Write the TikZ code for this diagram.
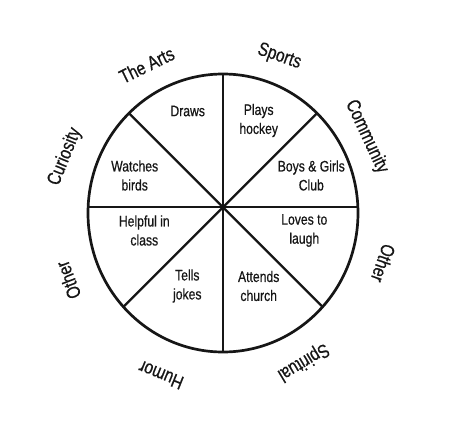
\documentclass[tikz,border=0pt]{standalone}
\usepackage{fontspec}
\setmainfont{Liberation Sans}[FakeStretch=0.8, FakeBold=0.6]
\usepackage{tikz}
\usetikzlibrary{positioning}
\definecolor{wheelink}{HTML}{161616}
\tikzstyle{wheelrim} = [draw=wheelink, line width=2.3pt]
\tikzstyle{spokeline} = [draw=wheelink, line width=2pt]
\tikzstyle{slicetext} = [align=center, inner sep=0pt, text=wheelink,
    font=\fontsize{13}{16.2}\selectfont]
\tikzstyle{rimlabel} = [inner sep=0pt, text=wheelink,
    font=\fontsize{16.5}{19}\selectfont]

\begin{document}
\begin{tikzpicture}[x=0.03cm, y=0.03cm]
\useasboundingbox (-223,-232.7) rectangle (244,207.3);

% wheel
\coordinate (hub) at (0,0);
\coordinate (rimN) at (0,133.3);
\coordinate (rimS) at (0,-144.7);
\coordinate (rimE) at (134.9,0);
\coordinate (rimW) at (-134.9,0);
\coordinate (rimNE) at (94,94);
\coordinate (rimNW) at (-94,94);
\coordinate (rimSE) at (99.6,-99.6);
\coordinate (rimSW) at (-99.6,-99.6);
\draw[wheelrim] (0,-5.7) ellipse [x radius=135, y radius=139];
\draw[spokeline] (rimN) -- (hub) -- (rimS);
\draw[spokeline] (rimW) -- (hub) -- (rimE);
\draw[spokeline] (rimNW) -- (hub) -- (rimSE);
\draw[spokeline] (rimSW) -- (hub) -- (rimNE);

% inside the slices
\node[slicetext] (draws) at (-35.3,96.3) {Draws};
\node[slicetext] (hockey) at (35.7,86.8) {Plays\\hockey};
\node[slicetext] (birds) at (-88.3,31.8) {Watches\\birds};
\node[slicetext] (club) at (88.3,31.8) {Boys \& Girls\\Club};
\node[slicetext] (helpful) at (-78.7,-23.2) {Helpful in\\class};
\node[slicetext] (laugh) at (81.3,-23.2) {Loves to\\laugh};
\node[slicetext] (jokes) at (-35.7,-78.7) {Tells\\jokes};
\node[slicetext] (church) at (35.7,-78.7) {Attends\\church};

% round the rim
\node[rimlabel, rotate=26] (arts) at (-76.3,142.3) {The Arts};
\node[rimlabel, rotate=-19] (sports) at (56.3,150.6) {Sports};
\node[rimlabel, rotate=-65] (community) at (143.7,70.6) {Community};
\node[rimlabel, rotate=-109] (otherright) at (160.3,-56) {Other};
\node[rimlabel, rotate=-149] (spiritual) at (80.3,-154.4) {Spiritual};
\node[rimlabel, rotate=158] (humor) at (-62,-167.7) {Humor};
\node[rimlabel, rotate=111] (otherleft) at (-154.7,-72.7) {Other};
\node[rimlabel, rotate=68] (curiosity) at (-158,50.6) {Curiosity};

\end{tikzpicture}
\end{document}
